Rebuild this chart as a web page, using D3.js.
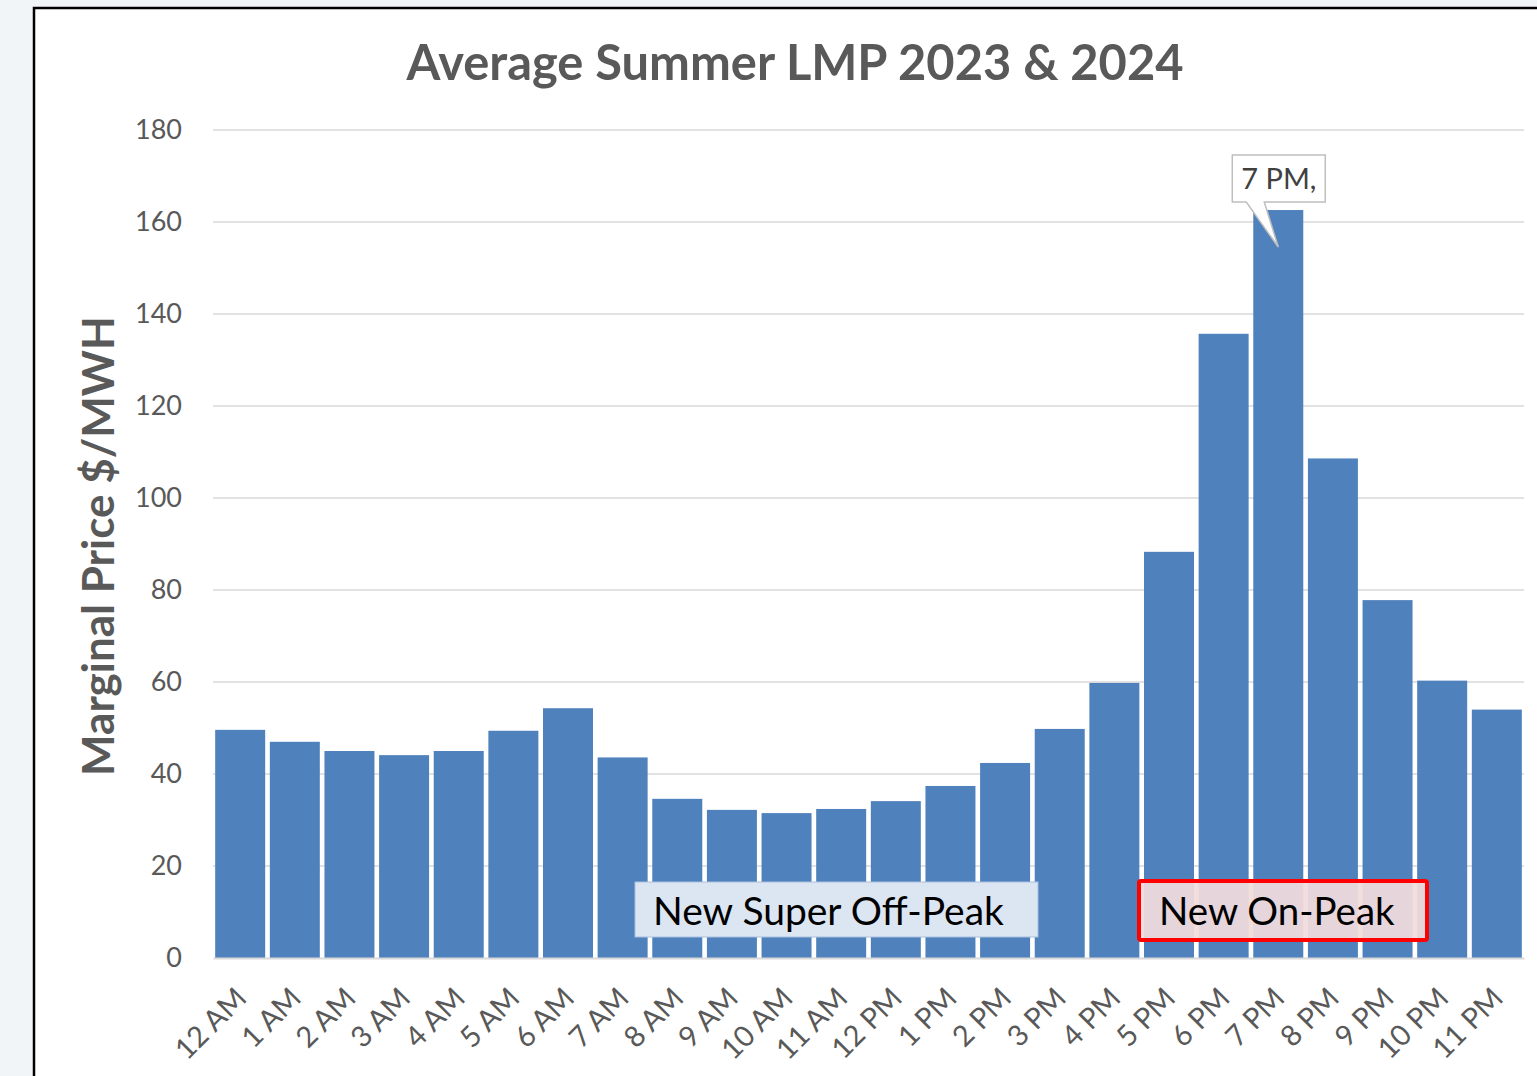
<!DOCTYPE html>
<html>
<head>
<meta charset="utf-8">
<script src="https://cdn.jsdelivr.net/npm/d3@7"></script>
<style>
  body { margin: 0; background: #f2f5f8; overflow: hidden; }
  svg { display: block; }
</style>
</head>
<body>
<svg id="chart" width="1537" height="1076"></svg>
<script>
const hours = ["12 AM", "1 AM", "2 AM", "3 AM", "4 AM", "5 AM", "6 AM", "7 AM", "8 AM", "9 AM", "10 AM", "11 AM",
               "12 PM", "1 PM", "2 PM", "3 PM", "4 PM", "5 PM", "6 PM", "7 PM", "8 PM", "9 PM", "10 PM", "11 PM"];
const lmp = [49.6, 47.0, 45.0, 44.1, 45.0, 49.4, 54.3, 43.6, 34.6, 32.2, 31.5, 32.4,
             34.1, 37.4, 42.4, 49.8, 59.8, 88.3, 135.7, 162.6, 108.6, 77.8, 60.3, 54.0];
const yTicks = [0, 20, 40, 60, 80, 100, 120, 140, 160, 180];

const svg = d3.select("#chart");
const font = "Lato, 'Open Sans', sans-serif";
const grey = "#595959";

// outer frame
svg.append("rect")
    .attr("x", 34).attr("y", 8)
    .attr("width", 1600).attr("height", 1200)
    .attr("fill", "#fff")
    .attr("stroke", "#000")
    .attr("stroke-width", 2.5);

const margin = { top: 130, left: 213, right: 13, bottom: 118 };
const width = 1537 - margin.left - margin.right;
const height = 1076 - margin.top - margin.bottom;

const chart = svg.append("g")
    .attr("transform", `translate(${margin.left},${margin.top})`);

// Scales
const x = d3.scaleBand().domain(hours).range([0, width]).paddingInner(0.085).paddingOuter(0.04);
const y = d3.scaleLinear().domain([0, 180]).range([height, 0]);

// Gridlines
chart.append("g")
    .selectAll("line")
    .data(yTicks.slice(1))
    .enter().append("line")
    .attr("x1", 0).attr("x2", width)
    .attr("y1", d => y(d)).attr("y2", d => y(d))
    .attr("stroke", "#d9d9d9")
    .attr("stroke-width", 1.5);

// Y axis labels
const yAxis = chart.append("g")
    .call(d3.axisLeft(y).tickValues(yTicks).tickSize(0).tickPadding(31));
yAxis.select(".domain").remove();
yAxis.selectAll("text")
    .attr("font-family", font)
    .attr("font-size", 27)
    .attr("fill", grey);

// Bars
chart.selectAll(".bar")
    .data(lmp)
    .enter().append("rect")
    .attr("class", "bar")
    .attr("x", (d, i) => x(hours[i]))
    .attr("y", d => y(d))
    .attr("width", x.bandwidth())
    .attr("height", d => height - y(d))
    .attr("fill", "#4f81bd");

// X axis
const xAxis = chart.append("g")
    .attr("transform", `translate(0,${height})`)
    .call(d3.axisBottom(x).tickSize(0).tickPadding(0));
xAxis.select(".domain")
    .attr("stroke", "#d9d9d9")
    .attr("stroke-width", 2);
xAxis.selectAll("text")
    .attr("font-family", font)
    .attr("font-size", 29)
    .attr("fill", grey)
    .attr("text-anchor", "end")
    .attr("dy", 0)
    .attr("transform", "translate(8,42) rotate(-45)");

// Y axis title
svg.append("text")
    .attr("transform", `translate(114,${margin.top + height / 2 + 2}) rotate(-90)`)
    .attr("text-anchor", "middle")
    .attr("font-family", font)
    .attr("font-weight", "bold")
    .attr("font-size", 44)
    .attr("fill", grey)
    .text("Marginal Price $/MWH");

// Title
svg.append("text")
    .attr("x", 795)
    .attr("y", 80)
    .attr("text-anchor", "middle")
    .attr("font-family", font)
    .attr("font-weight", "bold")
    .attr("font-size", 48.8)
    .attr("fill", grey)
    .text("Average Summer LMP 2023 & 2024");

// Callout on the 7 PM bar
const peakIdx = lmp.indexOf(d3.max(lmp));
const cx = x(hours[peakIdx]) + x.bandwidth() / 2;
const tipY = y(lmp[peakIdx]) + 37;
const bx0 = cx - 46, bx1 = cx + 47, by0 = y(lmp[peakIdx]) - 55, by1 = y(lmp[peakIdx]) - 8;
chart.append("path")
    .attr("d", `M${bx0},${by0} H${bx1} V${by1} H${cx - 14} L${cx},${tipY} L${cx - 32},${by1} H${bx0} Z`)
    .attr("fill", "#fff")
    .attr("stroke", "#bfbfbf")
    .attr("stroke-width", 1.5);
chart.append("text")
    .attr("x", bx0 + 9)
    .attr("y", by1 - 13)
    .attr("font-family", font)
    .attr("font-size", 29)
    .attr("fill", "#404040")
    .text(`${hours[peakIdx]},`);

// Period boxes
svg.append("rect")
    .attr("x", 635).attr("y", 882)
    .attr("width", 403).attr("height", 55)
    .attr("fill", "#dce6f2")
    .attr("stroke", "#a9c0de")
    .attr("stroke-width", 1);
svg.append("text")
    .attr("x", 653).attr("y", 925)
    .attr("font-family", font)
    .attr("font-size", 39)
    .attr("fill", "#000")
    .text("New Super Off-Peak");

svg.append("rect")
    .attr("x", 1139).attr("y", 881)
    .attr("width", 288).attr("height", 59)
    .attr("rx", 2)
    .attr("fill", "#f2dcdb")
    .attr("fill-opacity", 0.93)
    .attr("stroke", "#ff0000")
    .attr("stroke-width", 4);
svg.append("text")
    .attr("x", 1159).attr("y", 925)
    .attr("font-family", font)
    .attr("font-size", 38.5)
    .attr("fill", "#000")
    .text("New On-Peak");
</script>
</body>
</html>
